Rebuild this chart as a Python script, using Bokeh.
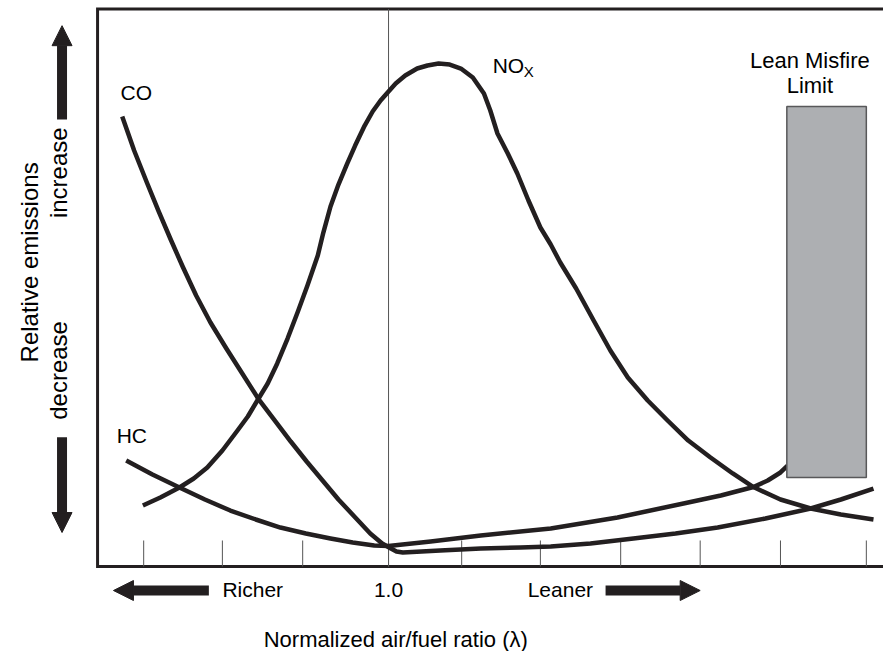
import math
from bokeh.plotting import figure
from bokeh.models import Range1d, Label, Arrow, NormalHead
from bokeh.embed import file_html
from bokeh.resources import INLINE

# ---------------- data (x = normalized air/fuel ratio lambda, y = relative emissions, 0 = axis)
co_x = [0.665, 0.680, 0.696, 0.711, 0.726, 0.741, 0.758, 0.776, 0.796, 0.816, 0.836,
        0.857, 0.877, 0.897, 0.917, 0.937, 0.957, 0.977, 0.992, 1.003, 1.010, 1.018,
        1.065, 1.116, 1.166, 1.204, 1.254, 1.308, 1.361, 1.414, 1.474, 1.531, 1.569, 1.610]
co_y = [80.79, 74.69, 68.94, 63.73, 58.71, 53.86, 48.65, 43.81, 39.14, 34.65, 30.16,
        26.21, 22.44, 18.85, 15.44, 12.03, 8.98, 5.92, 4.13, 3.23, 2.69, 2.51,
        2.87, 3.23, 3.41, 3.59, 4.13, 5.03, 5.92, 7.00, 8.62, 10.41, 12.03, 14.00]

hc_x = [0.670, 0.703, 0.737, 0.769, 0.801, 0.833, 0.864, 0.896, 0.927, 0.955, 0.982,
        1.000, 1.053, 1.116, 1.204, 1.288, 1.371, 1.418, 1.459, 1.477, 1.493, 1.502]
hc_y = [19.03, 16.52, 14.18, 12.03, 10.05, 8.44, 7.00, 5.92, 5.03, 4.31, 3.77,
        3.68, 4.49, 5.57, 6.82, 8.80, 11.31, 12.75, 14.27, 15.44, 16.88, 18.13]

nox_x = [0.691, 0.713, 0.737, 0.755, 0.772, 0.791, 0.810, 0.823, 0.835, 0.848, 0.860,
         0.873, 0.886, 0.898, 0.911, 0.918, 0.927, 0.937, 0.948, 0.958, 0.970, 0.980,
         0.990, 1.000, 1.009, 1.021, 1.036, 1.049, 1.063, 1.077, 1.091, 1.106, 1.120,
         1.128, 1.137, 1.150, 1.162, 1.176, 1.191, 1.204, 1.216, 1.236, 1.258, 1.279,
         1.301, 1.326, 1.351, 1.377, 1.405, 1.433, 1.459, 1.493, 1.531, 1.569, 1.610]
nox_y = [10.95, 12.39, 14.18, 15.80, 17.77, 20.83, 24.42, 26.93, 29.80, 32.85, 36.45,
         40.93, 45.78, 50.45, 55.83, 59.96, 64.63, 68.58, 72.35, 75.58, 79.17, 81.69,
         83.66, 85.28, 86.71, 88.15, 89.41, 89.95, 90.30, 90.12, 89.41, 87.79, 84.92,
         81.87, 77.74, 74.15, 70.56, 65.71, 60.86, 57.81, 54.58, 49.91, 44.16, 38.78,
         33.93, 29.80, 26.21, 22.62, 19.57, 16.70, 14.27, 12.03, 10.41, 9.34, 8.44]

tick_lambda = [0.692, 0.791, 0.892, 1.0, 1.092, 1.191, 1.292, 1.392, 1.493, 1.601]
tick_labels = {1.0: "1.0"}

misfire_left = [1.501]
misfire_right = [1.601]
misfire_bottom = [16.0]
misfire_top = [82.6]

# ---------------- layout constants
X_MIN, X_MAX = 0.5119, 1.6226
Y_MIN, Y_MAX = -15.26, 101.62
BOX_LEFT, BOX_TOP, BOX_BOTTOM = 0.634, 100.09, 0.0
TICK_LEN = 4.67

FONT = "Liberation Sans"
INK = "#231f20"

p = figure(width=883, height=651, title=None,
           x_range=Range1d(X_MIN, X_MAX), y_range=Range1d(Y_MIN, Y_MAX),
           output_backend="svg", toolbar_location=None,
           min_border_left=0, min_border_right=0, min_border_top=0, min_border_bottom=0)
p.axis.visible = False
p.grid.visible = False
p.outline_line_color = None
p.background_fill_color = "white"
p.border_fill_color = "white"

# plot box (top, left, bottom sides)
p.line([X_MAX, BOX_LEFT, BOX_LEFT, X_MAX], [BOX_TOP, BOX_TOP, BOX_BOTTOM, BOX_BOTTOM],
       line_color=INK, line_width=3, line_join="miter")

# inward ticks and the lambda = 1 line
p.segment(x0=tick_lambda, y0=[BOX_BOTTOM] * len(tick_lambda),
          x1=tick_lambda, y1=[BOX_BOTTOM + TICK_LEN] * len(tick_lambda),
          line_color="#555555", line_width=1)
p.segment(x0=[1.0], y0=[BOX_BOTTOM], x1=[1.0], y1=[BOX_TOP], line_color="#555555", line_width=1)

# curves
for xs, ys in ((nox_x, nox_y), (co_x, co_y), (hc_x, hc_y)):
    p.line(xs, ys, line_width=4.5, line_color=INK, line_join="round")

# lean misfire limit box
p.quad(left=misfire_left, right=misfire_right, bottom=misfire_bottom, top=misfire_top,
       fill_color="#adafb2", line_color="#58585a", line_width=1.5)

def lab(x, y, text, size="21px", align="left", baseline="alphabetic", angle=0.0):
    p.add_layout(Label(x=x, y=y, text=text, text_font=FONT, text_font_size=size,
                       text_color="black", text_align=align, text_baseline=baseline,
                       angle=angle))

# curve labels
lab(0.663, 85.14, "CO")
lab(0.658, 23.54, "HC")
lab(1.131, 89.94, "NO")
lab(1.170, 88.84, "X", size="15px")
lab(1.530, 90.84, "Lean Misfire", size="22px", align="center")
lab(1.530, 86.34, "Limit", size="22px", align="center")

# x-axis texts
for t, s in tick_labels.items():
    lab(t, -4.13, s, align="center")
lab(0.791, -4.13, "Richer")
lab(1.175, -4.13, "Leaner")
lab(0.843, -13.10, "Normalized air/fuel ratio (\u03bb)", size="22px")

# y-axis texts
lab(0.5478, 54.6, "Relative emissions", size="24px", align="center", baseline="middle", angle=math.pi / 2)
lab(0.5849, 70.7, "increase", size="24px", align="center", baseline="middle", angle=math.pi / 2)
lab(0.5849, 35.2, "decrease", size="24px", align="center", baseline="middle", angle=math.pi / 2)

def arrow(x0, y0, x1, y1):
    p.add_layout(Arrow(end=NormalHead(size=20, fill_color=INK, line_color=INK, line_width=1),
                       x_start=x0, y_start=y0, x_end=x1, y_end=y1,
                       line_color=INK, line_width=10))

arrow(0.5893, 80.25, 0.5893, 97.1)
arrow(0.5893, 23.2, 0.5893, 6.1)
arrow(0.774, -4.31, 0.654, -4.31)
arrow(1.273, -4.31, 1.392, -4.31)

open("out.html", "w").write(file_html(p, INLINE))
